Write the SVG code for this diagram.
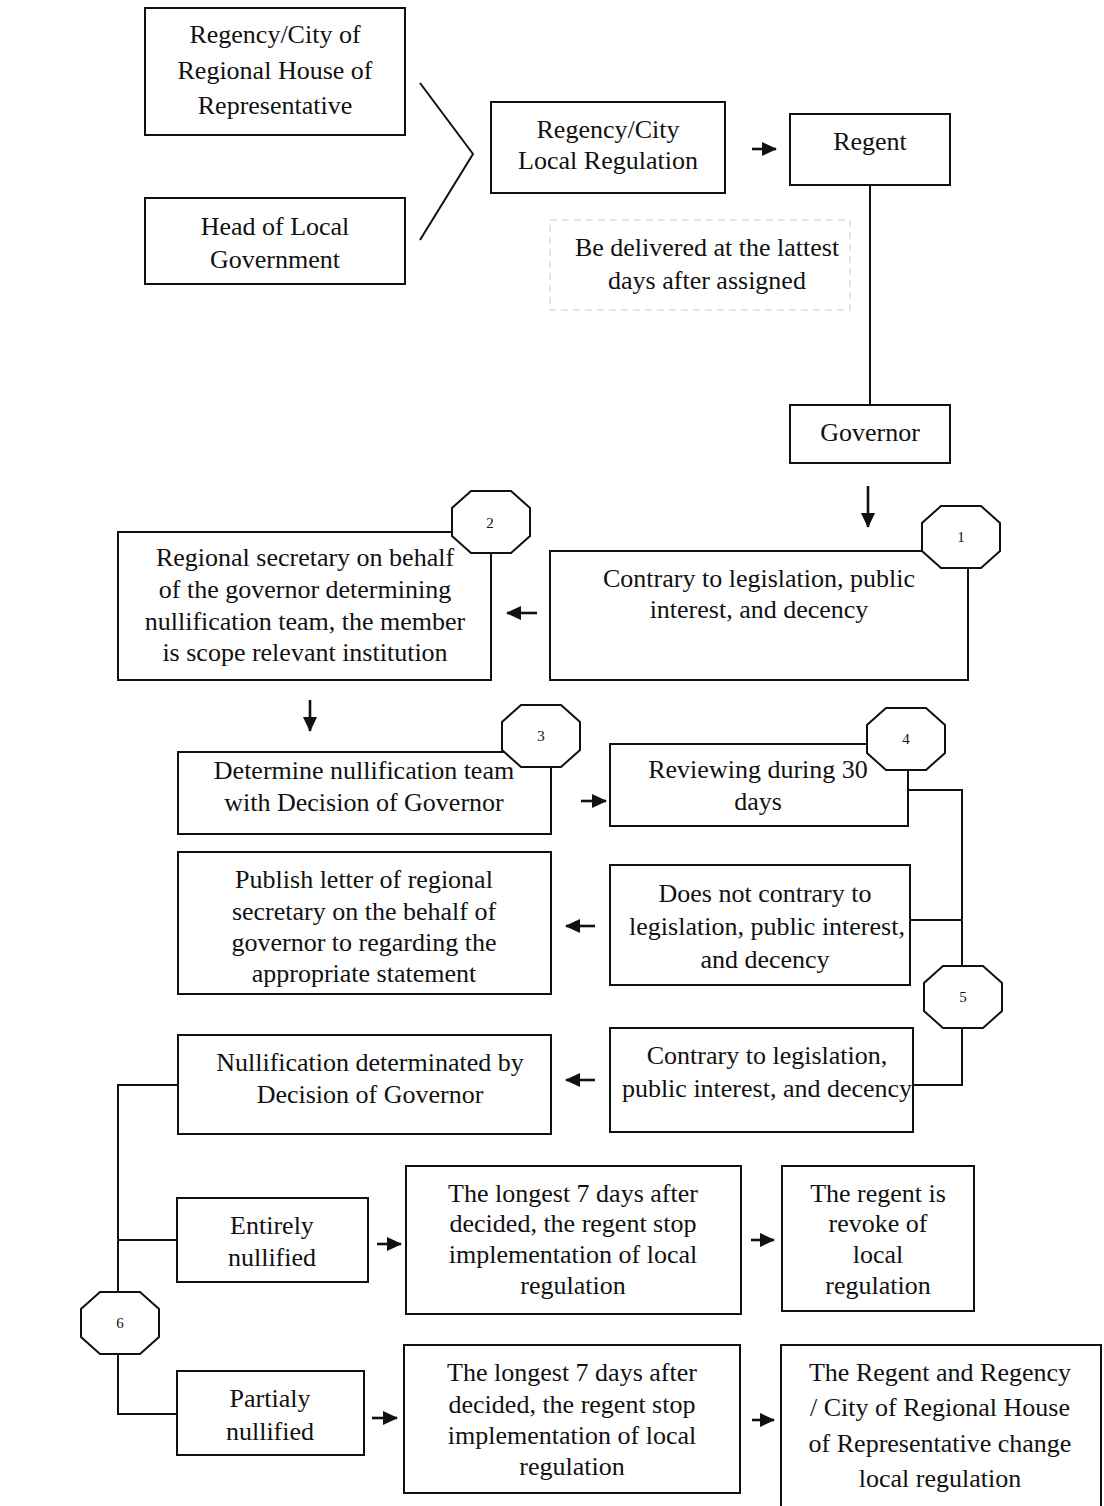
<svg xmlns="http://www.w3.org/2000/svg" width="1104" height="1506" viewBox="0 0 1104 1506">
<style>
.b{fill:#fff;stroke:#111;stroke-width:2}
.c{fill:none;stroke:#111;stroke-width:2}
.t{font-family:"Liberation Serif","Times New Roman",serif;font-size:26px;fill:#111;text-anchor:middle}
.n{font-family:"Liberation Serif","Times New Roman",serif;font-size:15px;fill:#111;text-anchor:middle}
.a{fill:none;stroke:#111;stroke-width:2.6;marker-end:url(#ah)}
</style>
<defs>
<marker id="ah" markerUnits="userSpaceOnUse" markerWidth="15" markerHeight="14" refX="14" refY="7" orient="auto">
<path d="M0,0 L15,7 L0,14 z" fill="#111"/>
</marker>
<polygon id="oct" points="-20,-31 20,-31 39,-14 39,14 20,31 -20,31 -39,14 -39,-14"/>
</defs>
<rect width="1104" height="1506" fill="#fff"/>
<g id="connectors">
<polyline class="c" points="420,83 473,154 420,240"/>
<line class="c" x1="870" y1="185" x2="870" y2="405"/>
<polyline class="c" points="908,790 962,790 962,1085 913,1085"/>
<line class="c" x1="910" y1="920" x2="962" y2="920"/>
<polyline class="c" points="178,1085 118,1085 118,1414 178,1414"/>
<line class="c" x1="118" y1="1240" x2="178" y2="1240"/>
<line class="a" x1="752" y1="149" x2="776" y2="149"/>
<line class="a" x1="868" y1="486" x2="868" y2="527"/>
<line class="a" x1="537" y1="613" x2="507" y2="613"/>
<line class="a" x1="310" y1="700" x2="310" y2="731"/>
<line class="a" x1="581" y1="801" x2="606" y2="801"/>
<line class="a" x1="595" y1="926" x2="566" y2="926"/>
<line class="a" x1="595" y1="1080" x2="566" y2="1080"/>
<line class="a" x1="377" y1="1244" x2="401" y2="1244"/>
<line class="a" x1="751" y1="1240" x2="774" y2="1240"/>
<line class="a" x1="372" y1="1418" x2="397" y2="1418"/>
<line class="a" x1="752" y1="1420" x2="774" y2="1420"/>
</g>
<g id="n-house"><rect class="b" x="145" y="8" width="260" height="127"/>
<text class="t" x="275" y="43">Regency/City of</text><text class="t" x="275" y="79">Regional House of</text><text class="t" x="275" y="114">Representative</text></g>
<g id="n-head"><rect class="b" x="145" y="198" width="260" height="86"/>
<text class="t" x="275" y="235">Head of Local</text><text class="t" x="275" y="268">Government</text></g>
<g id="n-reg"><rect class="b" x="491" y="102" width="234" height="91"/>
<text class="t" x="608" y="138">Regency/City</text><text class="t" x="608" y="169">Local Regulation</text></g>
<g id="n-regent"><rect class="b" x="790" y="114" width="160" height="71"/>
<text class="t" x="870" y="150">Regent</text></g>
<g id="n-note"><rect x="550" y="220" width="300" height="90" fill="#fff" stroke="#ddd" stroke-width="1.5" stroke-dasharray="7 5"/>
<text class="t" x="707" y="256">Be delivered at the lattest</text><text class="t" x="707" y="289">days after assigned</text></g>
<g id="n-governor"><rect class="b" x="790" y="405" width="160" height="58"/>
<text class="t" x="870" y="441">Governor</text></g>
<g id="n-contrary1"><rect class="b" x="550" y="551" width="418" height="129"/>
<text class="t" x="759" y="587">Contrary to legislation, public</text><text class="t" x="759" y="618">interest, and decency</text></g>
<g id="n-secretary"><rect class="b" x="118" y="532" width="373" height="148"/>
<text class="t" x="305" y="566">Regional secretary on behalf</text><text class="t" x="305" y="598">of the governor determining</text><text class="t" x="305" y="630">nullification team, the member</text><text class="t" x="305" y="661">is scope relevant institution</text></g>
<g id="n-determine"><rect class="b" x="178" y="752" width="373" height="82"/>
<text class="t" x="364" y="779">Determine nullification team</text><text class="t" x="364" y="811">with Decision of Governor</text></g>
<g id="n-review"><rect class="b" x="610" y="744" width="298" height="82"/>
<text class="t" x="758" y="778">Reviewing during 30</text><text class="t" x="758" y="810">days</text></g>
<g id="n-publish"><rect class="b" x="178" y="852" width="373" height="142"/>
<text class="t" x="364" y="888">Publish letter of regional</text><text class="t" x="364" y="920">secretary on the behalf of</text><text class="t" x="364" y="951">governor to regarding the</text><text class="t" x="364" y="982">appropriate statement</text></g>
<g id="n-notcontrary"><rect class="b" x="610" y="865" width="300" height="120"/>
<text class="t" x="765" y="902">Does not contrary to</text><text class="t" x="767" y="935">legislation, public interest,</text><text class="t" x="765" y="968">and decency</text></g>
<g id="n-contrary2"><rect class="b" x="610" y="1028" width="303" height="104"/>
<text class="t" x="767" y="1064">Contrary to legislation,</text><text class="t" x="767" y="1097">public interest, and decency</text></g>
<g id="n-nullification"><rect class="b" x="178" y="1035" width="373" height="99"/>
<text class="t" x="370" y="1071">Nullification determinated by</text><text class="t" x="370" y="1103">Decision of Governor</text></g>
<g id="n-entirely"><rect class="b" x="177" y="1198" width="191" height="84"/>
<text class="t" x="272" y="1234">Entirely</text><text class="t" x="272" y="1266">nullified</text></g>
<g id="n-longest1"><rect class="b" x="406" y="1166" width="335" height="148"/>
<text class="t" x="573" y="1202">The longest 7 days after</text><text class="t" x="573" y="1232">decided, the regent stop</text><text class="t" x="573" y="1263">implementation of local</text><text class="t" x="573" y="1294">regulation</text></g>
<g id="n-revoke"><rect class="b" x="782" y="1166" width="192" height="145"/>
<text class="t" x="878" y="1202">The regent is</text><text class="t" x="878" y="1232">revoke of</text><text class="t" x="878" y="1263">local</text><text class="t" x="878" y="1294">regulation</text></g>
<g id="n-partialy"><rect class="b" x="177" y="1371" width="187" height="84"/>
<text class="t" x="270" y="1407">Partialy</text><text class="t" x="270" y="1440">nullified</text></g>
<g id="n-longest2"><rect class="b" x="404" y="1345" width="336" height="148"/>
<text class="t" x="572" y="1381">The longest 7 days after</text><text class="t" x="572" y="1413">decided, the regent stop</text><text class="t" x="572" y="1444">implementation of local</text><text class="t" x="572" y="1475">regulation</text></g>
<g id="n-change"><path class="b" d="M781,1512 V1345 H1101 V1512"/>
<text class="t" x="940" y="1381">The Regent and Regency</text><text class="t" x="940" y="1416">/ City of Regional House</text><text class="t" x="940" y="1452">of Representative change</text><text class="t" x="940" y="1487">local regulation</text></g>
<g id="o1"><use href="#oct" class="b" x="961" y="537"/><text class="n" x="961" y="542">1</text></g>
<g id="o2"><use href="#oct" class="b" x="491" y="522"/><text class="n" x="490" y="528">2</text></g>
<g id="o3"><use href="#oct" class="b" x="541" y="736"/><text class="n" x="541" y="741">3</text></g>
<g id="o4"><use href="#oct" class="b" x="906" y="739"/><text class="n" x="906" y="744">4</text></g>
<g id="o5"><use href="#oct" class="b" x="963" y="997"/><text class="n" x="963" y="1002">5</text></g>
<g id="o6"><use href="#oct" class="b" x="120" y="1323"/><text class="n" x="120" y="1328">6</text></g>
</svg>
